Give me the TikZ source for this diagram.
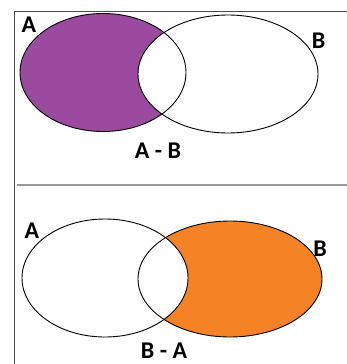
\documentclass[tikz,border=0pt]{standalone}
\usepackage{fontspec}
\setsansfont{Carlito}
\definecolor{setpurple}{RGB}{156,74,159}
\definecolor{setorange}{RGB}{246,130,38}

\begin{document}
\begin{tikzpicture}[
  x=1pt, y=-1pt,
  outline/.style={draw=black, line width=0.9pt},
  frameline/.style={draw=black!70, line width=0.9pt},
  divider/.style={draw=black!40, line width=1.8pt},
  lbl/.style={font=\sffamily\bfseries\fontsize{24}{28}\selectfont, inner sep=0pt},
]
  \useasboundingbox (0,0) rectangle (347,364);

  % frame
  \draw[frameline] (14,364) -- (14,11) -- (347,11);
  \draw[divider] (17,185) -- (347,185);

  % (top) A - B
  \fill[setpurple] (103,72.5) ellipse [x radius=83, y radius=59];
  \fill[white] (228,74) ellipse [x radius=90, y radius=59];
  \draw[outline] (103,72.5) ellipse [x radius=83, y radius=59];
  \draw[outline] (228,74) ellipse [x radius=90, y radius=59];
  \node[lbl] (topA) at (29,25) {A};
  \node[lbl] (topB) at (318.5,41) {B};
  \node[lbl] (diffAB) at (158,151) {A - B};

  % (bottom) B - A
  \fill[setorange] (230,279) ellipse [x radius=92, y radius=58];
  \fill[white] (105,278) ellipse [x radius=83, y radius=59];
  \draw[outline] (105,278) ellipse [x radius=83, y radius=59];
  \draw[outline] (230,279) ellipse [x radius=92, y radius=58];
  \node[lbl] (botA) at (32,231) {A};
  \node[lbl] (botB) at (320,249) {B};
  \node[lbl] (diffBA) at (164,350.5) {B - A};
\end{tikzpicture}
\end{document}
